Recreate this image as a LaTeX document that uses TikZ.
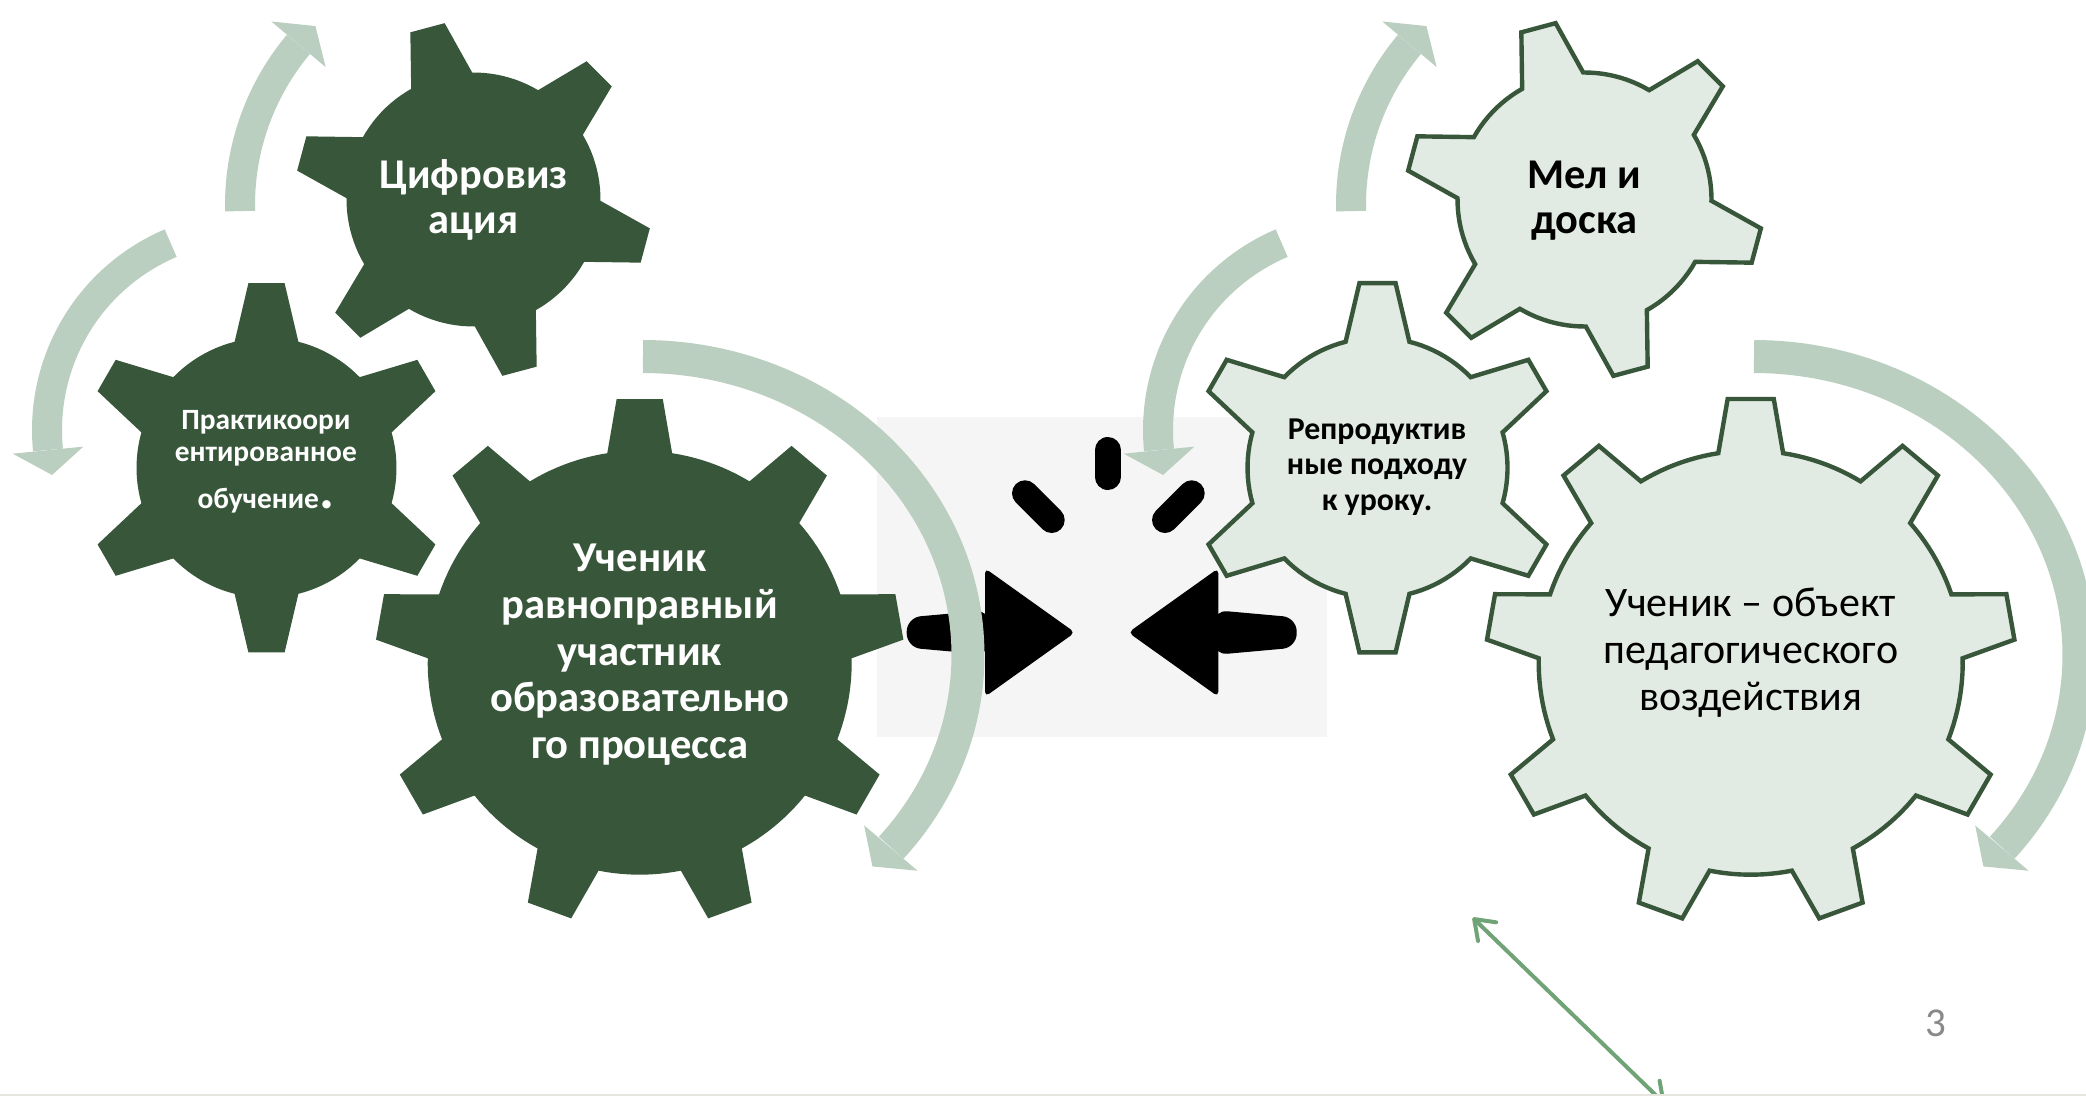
\documentclass[tikz,border=0pt]{standalone}
\usepackage{fontspec}
\setmainfont{Carlito}
\usetikzlibrary{arrows.meta}
\definecolor{gdark}{RGB}{56,86,58}
\definecolor{glight}{RGB}{226,235,227}
\definecolor{garc}{RGB}{187,207,192}
\definecolor{gbox}{RGB}{245,245,245}
\definecolor{gthin}{RGB}{112,164,118}
\definecolor{gpage}{RGB}{137,137,137}
\definecolor{gbottom}{RGB}{230,230,222}
% gear: #1 style, #2 cx, #3 cy, #4 body R, #5 tip R, #6 teeth, #7 first tooth angle, #8 base half-angle, #9 tip half-angle
\newcommand\gearshape[9]{%
  \pgfmathtruncatemacro\gearlast{#6-1}%
  \path[#1] ({#2+#4*cos(#7-#8)},{#3+#4*sin(#7-#8)})
    \foreach \k in {0,...,\gearlast}{
      -- ({#2+#5*cos(#7+\k*360/#6-#9)},{#3+#5*sin(#7+\k*360/#6-#9)})
      -- ({#2+#5*cos(#7+\k*360/#6+#9)},{#3+#5*sin(#7+\k*360/#6+#9)})
      -- ({#2+#4*cos(#7+\k*360/#6+#8)},{#3+#4*sin(#7+\k*360/#6+#8)})
      -- plot[domain=0:1,samples=12] ({#2+#4*cos(#7+\k*360/#6+#8+\x*(360/#6-2*#8))},{#3+#4*sin(#7+\k*360/#6+#8+\x*(360/#6-2*#8))})
    } -- cycle;}
% circular arrow: #1 cx, #2 cy, #3 rx, #4 ry, #5 start angle, #6 head base angle, #7 tip angle, #8 band width (pt), #9 head half width (px)
\newcommand\arcarrow[9]{%
  \draw[garc, line width=#8, line cap=butt]
    plot[domain=0:1,samples=80] ({#1+#3*cos(#5+\x*(#6-(#5)))},{#2+#4*sin(#5+\x*(#6-(#5)))});
  \fill[garc] ({#1+(#3+#9)*cos(#6)},{#2+(#4+#9)*sin(#6)})
    -- ({#1+#3*cos(#7)},{#2+#4*sin(#7)})
    -- ({#1+(#3-#9)*cos(#6)},{#2+(#4-#9)*sin(#6)}) -- cycle;}
\tikzset{
  darkgear/.style={fill=gdark},
  lightgear/.style={fill=glight, draw=gdark, line width=2.2pt, line join=miter},
  gtxt/.style={align=center, inner sep=0pt, anchor=base},
  thinarrow/.style={draw=gthin, line width=2pt, line cap=round,
    {Straight Barb[length=9pt,width=13pt,round]}-{Straight Barb[length=9pt,width=13pt,round]}},
}
\begin{document}
\begin{tikzpicture}[x=0.5pt,y=-0.5pt]
\useasboundingbox (0,0) rectangle (2086,1096);
\clip (0,0) rectangle (2086,1096);
\fill[white] (0,0) rectangle (2086,1096);
% grey panel
\fill[gbox] (877,416.7) rectangle (1327,736.7);
% collision icon
\fill[black, rounded corners=2.5pt] (985,568.3) -- (1075,632.5) -- (985,696.7) -- cycle;
\fill[black, rounded corners=7pt] (906.7,617.5) -- (990,610) -- (990,655) -- (906.7,647.5) -- cycle;
\fill[black, rounded corners=2.5pt] (1218.3,568.3) -- (1128.3,632.5) -- (1218.3,696.7) -- cycle;
\fill[black, rounded corners=7pt] (1296.7,617.5) -- (1213.3,610) -- (1213.3,655) -- (1296.7,647.5) -- cycle;
\draw[black, line width=13pt, line cap=round] (1107.7,450) -- (1107.7,477);
\draw[black, line width=13pt, line cap=round] (1025,493.3) -- (1051.7,520);
\draw[black, line width=13pt, line cap=round] (1191.7,493.3) -- (1165,520);
% left gears
\gearshape{darkgear}{473.5}{199.5}{127}{178.7}{6}{15}{14.4}{5.7}
\gearshape{darkgear}{266.5}{467.8}{130}{185.5}{6}{-90}{14.2}{5.6}
\gearshape{darkgear}{639.7}{662.7}{212}{264.7}{9}{-90}{8.8}{5.0}
% right gears
\gearshape{lightgear}{1584.5}{199.5}{127}{178.7}{6}{15}{14.4}{5.7}
\gearshape{lightgear}{1377.5}{467.8}{130}{185.5}{6}{-90}{14.2}{5.6}
\gearshape{lightgear}{1750.7}{662.7}{212}{264.7}{9}{-90}{8.8}{5.0}
% circular arrows, left
\arcarrow{490}{205}{250}{250}{178.6}{220}{225.7}{15pt}{35.5}
\arcarrow{250}{430}{203}{203}{247}{174.3}{167.2}{15pt}{35.5}
\arcarrow{643}{655}{325}{298.5}{-90}{40.3}{45.1}{16.5pt}{35}
% circular arrows, right
\arcarrow{1601}{205}{250}{250}{178.6}{220}{225.7}{15pt}{35.5}
\arcarrow{1361}{430}{203}{203}{247}{174.3}{167.2}{15pt}{35.5}
\arcarrow{1754}{655}{325}{298.5}{-90}{40.3}{45.1}{16.5pt}{35}
% texts (anchor = baseline of the last line)
\node[gtxt, text=white, font={\fontsize{21.2}{22.5}\selectfont\bfseries}] (tB) at (473.5,233.3) {Цифровиз\\ация};
\node[gtxt, text=white, font={\fontsize{14.7}{15.85}\selectfont\bfseries}] (tC) at (265.8,508.3) {Практикоори\\ентированное\\[7.5pt]обучение{\fontsize{28}{28}\selectfont.}};
\node[gtxt, text=white, font={\fontsize{21.3}{23.3}\selectfont\bfseries}] (tA) at (639.7,758.3) {Ученик\\равноправный\\участник\\образовательно\\го процесса};
\node[gtxt, text=black, font={\fontsize{21.2}{22.5}\selectfont\bfseries}] (tD) at (1584.5,234) {Мел и\\доска};
\node[gtxt, text=black, font={\fontsize{15.9}{17.75}\selectfont\bfseries}] (tE) at (1377,510) {Репродуктив\\ные подходу\\к уроку.};
\node[gtxt, text=black, font={\fontsize{21}{23.3}\selectfont}] (tF) at (1750.7,710) {Ученик – объект\\педагогического\\воздействия};
% thin double arrow
\coordinate (dA) at (1472.7,917.7);
\coordinate (dB) at (1664.9,1104);
\draw[thinarrow] (dA) -- (dB);
% page number and bottom rule
\node[gtxt, text=gpage, font={\fontsize{20.5}{24}\selectfont}] (pg) at (1936,1036) {3};
\coordinate (bl) at (0,1095);
\coordinate (br) at (2086,1095);
\draw[gbottom, line width=1.2pt] (bl) -- (br);
\end{tikzpicture}
\end{document}
